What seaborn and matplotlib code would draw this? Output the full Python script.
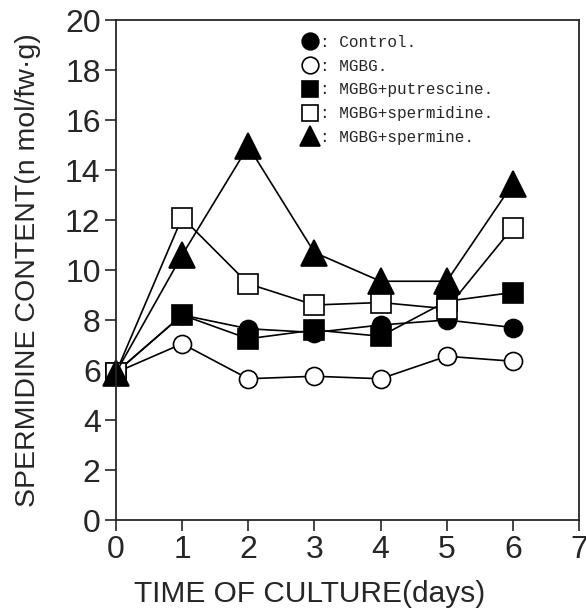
import pandas as pd
import numpy as np
import matplotlib
matplotlib.use("Agg")
import matplotlib.pyplot as plt
import seaborn as sns
from matplotlib.lines import Line2D

sns.set_style("ticks")
plt.rcParams['font.family'] = ['Liberation Sans', 'DejaVu Sans']

# data
days = [0, 1, 2, 3, 4, 5, 6]
control = [5.9, 8.2, 7.65, 7.5, 7.8, 8.0, 7.7]
mgbg = [5.9, 7.05, 5.65, 5.75, 5.65, 6.55, 6.35]
mgbg_put = [5.9, 8.2, 7.25, 7.6, 7.35, 8.75, 9.1]
mgbg_spd = [5.9, 12.1, 9.45, 8.6, 8.7, 8.45, 11.7]
mgbg_spm = [5.9, 10.6, 14.95, 10.7, 9.55, 9.55, 13.45]

labels = [": Control.", ": MGBG.", ": MGBG+putrescine.", ": MGBG+spermidine.", ": MGBG+spermine."]
series = [control, mgbg, mgbg_put, mgbg_spd, mgbg_spm]

df = pd.DataFrame({"day": days * 5,
                   "value": sum(series, []),
                   "group": np.repeat(labels, len(days))})

# marker styles (marker, facecolor, size)
styles = {
    labels[0]: ("o", "black", 13),
    labels[1]: ("o", "white", 13),
    labels[2]: ("s", "black", 14),
    labels[3]: ("s", "white", 14),
    labels[4]: ("^", "black", 19),
}

fig = plt.figure(figsize=(5.86, 6.10), dpi=100)
ax = fig.add_axes([116/586, 1-520/610, 463/586, 500/610])

for lab in labels:
    m, fc, ms = styles[lab]
    sub = df[df["group"] == lab]
    sns.lineplot(data=sub, x="day", y="value", ax=ax, color="black", lw=1.2,
                 marker=m, markersize=ms, markerfacecolor=fc, markeredgecolor="black",
                 markeredgewidth=1.2, legend=False, clip_on=False)

ax.set_xlim(0, 7)
ax.set_ylim(0, 20)
ax.set_xticks(range(0, 8))
ax.set_yticks(range(0, 21, 2))
ax.tick_params(labelsize=23, length=8, width=1.2, direction="out", pad=3)
for s in ax.spines.values():
    s.set_linewidth(1.3)
    s.set_visible(True)

ax.set_xlabel("TIME OF CULTURE(days)", fontsize=21.5)
ax.xaxis.set_label_coords(0.419, -0.12)
ax.set_ylabel("SPERMIDINE CONTENT(n mol/fw\u00b7g)", fontsize=20.5)
ax.yaxis.set_label_coords(-0.163, 0.5)

handles = []
for lab in labels:
    m, fc, ms = styles[lab]
    handles.append(Line2D([], [], ls="none", marker=m, markersize=12 if m != "^" else 14,
                          markerfacecolor=fc, markeredgecolor="black", markeredgewidth=1.2))
ax.legend(handles, labels, loc="upper left", bbox_to_anchor=(0.385, 0.983), frameon=False,
          prop={"family": "Liberation Mono", "size": 11.5}, handletextpad=0.0,
          handlelength=1.2, labelspacing=0.55, borderaxespad=0)

fig.savefig("out.png", dpi=100)
